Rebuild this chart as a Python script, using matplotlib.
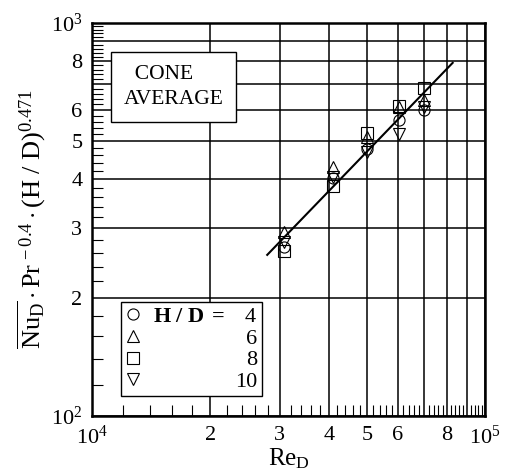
import numpy as np
import matplotlib
matplotlib.use("Agg")
import matplotlib.pyplot as plt
from matplotlib.ticker import FixedLocator, FixedFormatter, NullFormatter

plt.rcParams['font.family'] = ['Liberation Serif', 'DejaVu Serif']
plt.rcParams['mathtext.fontset'] = 'custom'
plt.rcParams['mathtext.rm'] = 'Liberation Serif'
plt.rcParams['mathtext.it'] = 'Liberation Serif:italic'
plt.rcParams['mathtext.bf'] = 'Liberation Serif:bold'

# data
re_d = [3.07e4, 4.1e4, 5.0e4, 6.05e4, 7.0e4]
nu_hd4 = [269, 402, 479, 566, 600]
nu_hd6 = [293, 430, 513, 612, 636]
nu_hd8 = [263, 384, 526, 614, 681]
nu_hd10 = [277, 405, 470, 523, 611]
hd_values = ['4', '6', '8', '10']

# correlation line end points
fit_re = [2.79e4, 8.27e4]
fit_nu = [257, 791]

x_ticks = [1e4, 2e4, 3e4, 4e4, 5e4, 6e4, 7e4, 8e4, 9e4, 1e5]
x_labels = ['$10^4$', '2', '3', '4', '5', '6', '', '8', '', '$10^5$']
y_ticks = [100, 200, 300, 400, 500, 600, 700, 800, 900, 1000]
y_labels = ['$10^2$', '2', '3', '4', '5', '6', '', '8', '', '$10^3$']

fig = plt.figure(figsize=(5.09, 4.75), dpi=100)
ax = fig.add_axes([0.181, 0.124, 0.772, 0.828])
ax.set_xscale('log')
ax.set_yscale('log')
ax.set_xlim(1e4, 1e5)
ax.set_ylim(100, 1000)

ax.xaxis.set_major_locator(FixedLocator(x_ticks))
ax.xaxis.set_major_formatter(FixedFormatter(x_labels))
ax.yaxis.set_major_locator(FixedLocator(y_ticks))
ax.yaxis.set_major_formatter(FixedFormatter(y_labels))
minor = np.concatenate([np.arange(1.2, 2.0, 0.2), np.arange(2.2, 10, 0.2)])
ax.xaxis.set_minor_locator(FixedLocator(minor * 1e4))
ax.yaxis.set_minor_locator(FixedLocator(minor * 100))
ax.xaxis.set_minor_formatter(NullFormatter())
ax.yaxis.set_minor_formatter(NullFormatter())
ax.tick_params(which='major', length=0, labelsize=16, pad=7)
ax.tick_params(which='minor', direction='in', length=8, width=0.8)
ax.grid(True, which='major', color='black', linewidth=1.1)
for s in ax.spines.values():
    s.set_linewidth(1.8)

ax.plot(fit_re, fit_nu, color='black', linewidth=1.5, zorder=3)

mk = dict(linestyle='none', markerfacecolor='none', markeredgecolor='black',
          markersize=8, markeredgewidth=0.8, zorder=4)
h4, = ax.plot(re_d, nu_hd4, marker='o', **mk)
h6, = ax.plot(re_d, nu_hd6, marker='^', **mk)
h8, = ax.plot(re_d, nu_hd8, marker='s', **mk)
h10, = ax.plot(re_d, nu_hd10, marker='v', **mk)

labels = [r'$\mathbf{H\ /\ D\ =}$   ' + hd_values[0], ' ', ' ', ' ']
leg = ax.legend([h4, h6, h8, h10], labels, loc='lower left',
                bbox_to_anchor=(0.074, 0.05), fontsize=16, frameon=True,
                fancybox=False, edgecolor='black', framealpha=1,
                handlelength=0.7, handletextpad=0.55, labelspacing=0.05,
                borderpad=0.2, borderaxespad=0)
leg.get_frame().set_linewidth(1.0)

# right-aligned H/D values for the remaining rows
fig.canvas.draw()
rend = fig.canvas.get_renderer()
texts = leg.get_texts()
x_right = texts[0].get_window_extent(rend).x1
inv = fig.transFigure.inverted()
for t, v in zip(texts[1:], hd_values[1:]):
    bb = t.get_window_extent(rend)
    xf, yf = inv.transform((x_right, (bb.y0 + bb.y1) / 2))
    fig.text(xf, yf, v, fontsize=16, ha='right', va='center', zorder=10)

ax.text(0.08, 0.893, '  CONE\nAVERAGE', transform=ax.transAxes, fontsize=15.5,
        va='top', ha='left', linespacing=1.45, zorder=5,
        bbox=dict(boxstyle='square,pad=0.6', facecolor='white',
                  edgecolor='black', linewidth=1.0))

ax.set_xlabel(r'$\mathrm{Re}_\mathrm{D}$', fontsize=18, labelpad=-2)
ax.set_ylabel(r'$\overline{\mathrm{Nu}_\mathrm{D}}\cdot\mathrm{Pr}^{\,-0.4}\cdot(\mathrm{H\ /\ D})^{0.471}$',
              fontsize=19, labelpad=2)

fig.savefig('out.png', dpi=100)
